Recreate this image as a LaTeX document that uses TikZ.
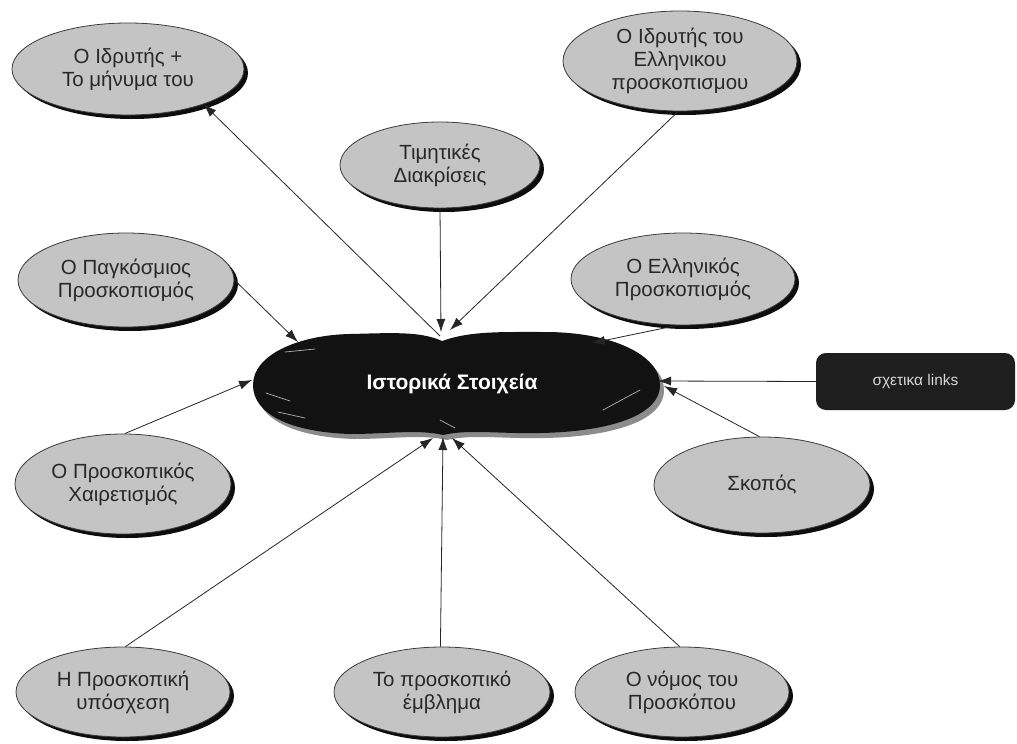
\documentclass[tikz,border=0pt]{standalone}
\usepackage{fontspec}
\setmainfont{Liberation Sans}
\usetikzlibrary{shapes.geometric,shadows,arrows.meta}

\definecolor{bubblegray}{RGB}{196,196,196}
\definecolor{bubbleline}{RGB}{60,60,60}
\definecolor{bubbletext}{RGB}{40,40,40}
\definecolor{cloudblack}{RGB}{18,18,18}
\definecolor{cloudshade}{RGB}{140,140,140}
\definecolor{boxblack}{RGB}{30,30,30}
\definecolor{boxtext}{RGB}{215,215,215}

\tikzset{
  bubble/.style={ellipse, draw=bubbleline, line width=0.8pt, fill=bubblegray,
    text=bubbletext, inner sep=0pt, align=center,
    font=\fontsize{20.5}{23}\selectfont,
    drop shadow={shadow xshift=4pt, shadow yshift=-4pt, fill=black, opacity=0.95}},
  link/.style={draw=black!85, line width=0.8pt,
    -{Latex[length=13pt,width=9pt]}},
  linkbox/.style={rectangle, rounded corners=10pt, fill=boxblack,
    text=boxtext, inner sep=0pt, font=\fontsize{15.5}{17}\selectfont},
  streak/.style={draw=white!70!black, line width=0.7pt, line cap=round}
}

\begin{document}
\begin{tikzpicture}[x=1pt,y=-1pt]
\useasboundingbox[fill=white] (0,0) rectangle (1017,744);

% central cloud: shadow, body and a few highlights
\def\cloudpath{(442,341) .. controls (470,331) and (500,332) .. (545,332)
  .. controls (612,332) and (660,355) .. (660,385)
  .. controls (660,418) and (602,432) .. (540,433)
  .. controls (500,434) and (468,429) .. (443,435)
  .. controls (418,429) and (388,434) .. (350,434)
  .. controls (290,432) and (253,414) .. (253,385)
  .. controls (253,354) and (300,335) .. (350,334)
  .. controls (392,333) and (420,331) .. (442,341) -- cycle}
\fill[cloudshade, xshift=4pt, yshift=-5pt] \cloudpath;
\fill[cloudblack] \cloudpath;
\draw[streak] (285,352) -- (315,349);
\draw[streak] (266,393) -- (290,401);
\draw[streak] (278,412) -- (305,418);
\draw[streak] (603,410) -- (640,390);
\draw[streak] (440,420) -- (455,428);
\node[text=white, font=\bfseries\fontsize{21}{24}\selectfont] (hist) at (452,384) {Ιστορικά Στοιχεία};

% points on the cloud where the connectors meet it
\coordinate (cIdr)   at (440,336);
\coordinate (cTim)   at (441,332);
\coordinate (cIdrEl) at (450,330);
\coordinate (cPagk)  at (298,342);
\coordinate (cEllin) at (592,343);
\coordinate (cLinks) at (658,381);
\coordinate (cXair)  at (252,380);
\coordinate (cSkop)  at (664,386);
\coordinate (cYpos)  at (433,438);
\coordinate (cEmvl)  at (443,437);
\coordinate (cNomos) at (452,438);

% surrounding topics
\node[bubble, minimum width=232pt, minimum height=92pt] (idr) at (128,69) {Ο Ιδρυτής +\\Το μήνυμα του};
\node[bubble, minimum width=234pt, minimum height=100pt] (idrel) at (680,61) {Ο Ιδρυτής του\\Ελληνικου\\προσκοπισμου};
\node[bubble, minimum width=200pt, minimum height=86pt] (tim) at (440,165) {Τιμητικές\\Διακρίσεις};
\node[bubble, minimum width=216pt, minimum height=94pt] (pagk) at (126,280) {Ο Παγκόσμιος\\Προσκοπισμός};
\node[bubble, minimum width=224pt, minimum height=92pt] (ellin) at (683,279) {Ο Ελληνικός\\Προσκοπισμός};
\node[bubble, minimum width=216pt, minimum height=100pt] (xair) at (123,484) {Ο Προσκοπικός\\Χαιρετισμός};
\node[bubble, minimum width=216pt, minimum height=96pt] (skop) at (762,485) {Σκοπός};
\node[bubble, minimum width=214pt, minimum height=90pt] (ypos) at (123,692) {Η Προσκοπική\\υπόσχεση};
\node[bubble, minimum width=216pt, minimum height=90pt] (emvl) at (442,692) {Το προσκοπικό\\έμβλημα};
\node[bubble, minimum width=214pt, minimum height=90pt] (nomos) at (682,692) {Ο νόμος του\\Προσκόπου};
\node[linkbox, minimum width=199pt, minimum height=57pt] (links) at (915.5,381.5) {σχετικα links};

% connectors
\draw[link] (cIdr) -- (idr.-25);
\draw[link] (tim.-90) -- (cTim);
\draw[link] (idrel.-92) -- (cIdrEl);
\draw[link] (pagk.0) -- (cPagk);
\draw[link] (ellin.-97) -- (cEllin);
\draw[link] (links.west) -- (cLinks);
\draw[link] (xair.88) -- (cXair);
\draw[link] (skop.93) -- (cSkop);
\draw[link] (ypos.87) -- (cYpos);
\draw[link] (emvl.92) -- (cEmvl);
\draw[link] (nomos.93) -- (cNomos);
\end{tikzpicture}
\end{document}
